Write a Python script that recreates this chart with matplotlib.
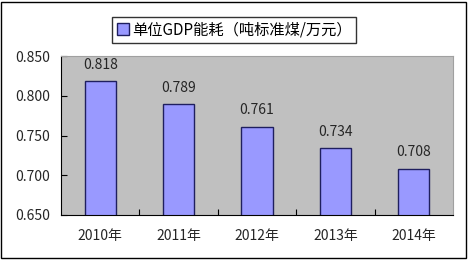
import matplotlib
matplotlib.use("Agg")
import matplotlib.pyplot as plt
from matplotlib.patches import Rectangle
import numpy as np

plt.rcParams["font.family"] = ["Noto Sans CJK SC", "DejaVu Sans"]

# ====== 数据 ======
years = ["2010年", "2011年", "2012年", "2013年", "2014年"]
energy = [0.818, 0.789, 0.761, 0.734, 0.708]
series_name = "单位GDP能耗（吨标准煤/万元）"
yticks = [0.650, 0.700, 0.750, 0.800, 0.850]

bar_color = "#9999FF"
edge_color = "#1F1F5F"
bg_color = "#C0C0C0"
text_color = "#262626"

fig = plt.figure(figsize=(4.68, 2.60), dpi=100)
W, H = 468, 260
ax = fig.add_axes([61 / W, 1 - 215 / H, (453 - 61) / W, (215 - 56) / H])
ax.set_facecolor(bg_color)

x = np.arange(len(years))
ax.bar(x, energy, 0.4, color=bar_color, edgecolor=edge_color, linewidth=1.0,
       label=series_name, zorder=2)
for xi, v in zip(x, energy):
    ax.text(xi, v + 0.012, f"{v:.3f}", ha="center", va="bottom", fontsize=10,
            color=text_color)

ax.set_xlim(-0.5, len(years) - 0.5)
ax.set_ylim(0.650, 0.850)
ax.set_yticks(yticks)
ax.set_yticklabels([f"{t:.3f}" for t in yticks], fontsize=10, color=text_color)
ax.set_xticks(x)
ax.set_xticklabels(years, fontsize=10, color=text_color)
ax.tick_params(axis="x", length=0, pad=10)
ax.set_xticks(np.arange(0.5, len(years) - 0.5, 1), minor=True)
ax.tick_params(axis="x", which="minor", direction="in", length=4, width=0.8)
ax.tick_params(axis="y", direction="in", length=4, width=0.8, pad=8)

ax.spines["left"].set_color("black")
ax.spines["bottom"].set_color("black")
ax.spines["top"].set_color("#A0A0A0")
ax.spines["right"].set_color("#A0A0A0")

leg = fig.legend(loc="upper center", bbox_to_anchor=(234 / W, 1 - 9 / H),
                 fontsize=11, frameon=True, fancybox=False, handlelength=0.8,
                 handleheight=0.8, handletextpad=0.2, borderpad=0.3,
                 edgecolor="black")
leg.get_frame().set_linewidth(1.0)

# 外框
fig.patches.append(Rectangle((1 / W, 2 / H), (466 - 1) / W, (258 - 2) / H,
                             transform=fig.transFigure, fill=False,
                             edgecolor="black", linewidth=1.0))

fig.savefig("out.png", dpi=100, facecolor="white")
